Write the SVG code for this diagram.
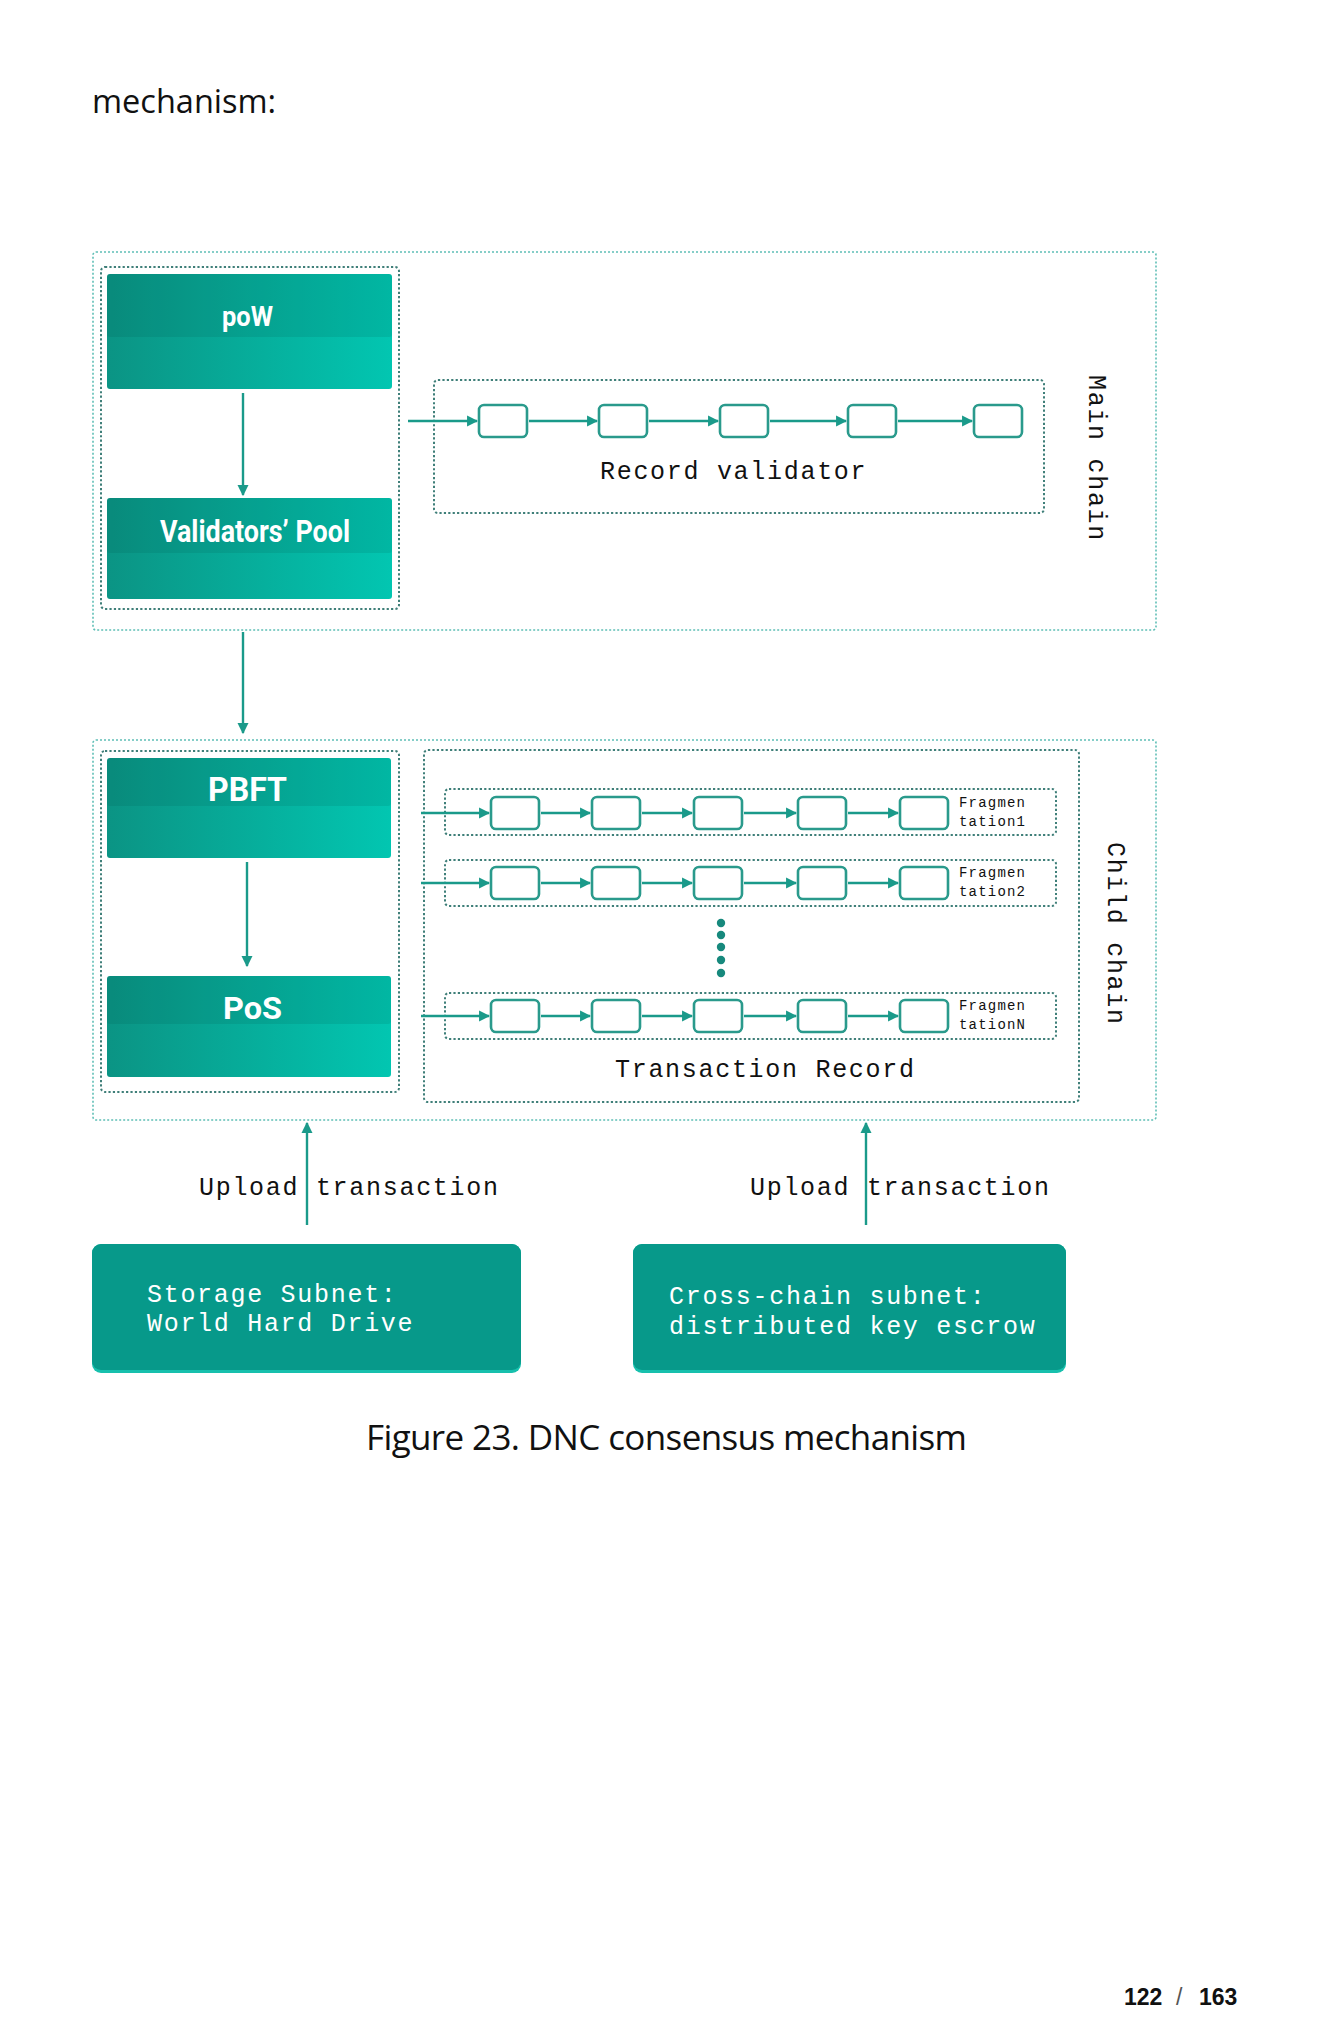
<svg xmlns="http://www.w3.org/2000/svg" width="1332" height="2041" viewBox="0 0 1332 2041">
<defs>
<style>
.outer{fill:none;stroke:#5fbfb6;stroke-width:1.6;stroke-dasharray:2 2}
.inner{fill:none;stroke:#3f7f79;stroke-width:2;stroke-dasharray:2.2 2.2}
.blk{fill:#fff;stroke:#2a9a8c;stroke-width:2.6}
.ln{stroke:#1a9a8a;stroke-width:2.4;fill:none}
.node-t{font-family:Roboto,"Liberation Sans",sans-serif;font-weight:700;fill:#fff}
.mono{font-family:"Liberation Mono","DejaVu Sans Mono",monospace;font-size:25px;letter-spacing:1.7px;fill:#111}
.frag{font-family:"Liberation Mono","DejaVu Sans Mono",monospace;font-size:14px;letter-spacing:1.2px;fill:#111}
.sub{font-family:"Liberation Mono","DejaVu Sans Mono",monospace;font-size:25px;letter-spacing:1.7px;fill:#fff}
.doc{font-family:"Open Sans","Noto Sans",sans-serif;fill:#111}
.pg{font-family:"Liberation Sans",Arial,sans-serif;font-size:23px;font-weight:700;fill:#111}
.pgs{font-family:"Liberation Sans",Arial,sans-serif;font-size:23px;font-weight:400;fill:#555}
</style>
<linearGradient id="g" x1="0" y1="0" x2="1" y2="0">
<stop offset="0" stop-color="#0b9484"/>
<stop offset="1" stop-color="#02c6b1"/>
</linearGradient>
<marker id="ah" viewBox="0 0 10 10" refX="9" refY="5" markerWidth="4.6" markerHeight="4.6" orient="auto" markerUnits="strokeWidth">
<path d="M0,0 L10,5 L0,10 z" fill="#1a9a8a"/>
</marker>
</defs>
<rect width="1332" height="2041" fill="#fff"/>

<text class="doc" x="92" y="113" font-size="32.5">mechanism:</text>

<g id="main-chain">
<rect class="outer" x="93" y="252" width="1063" height="378" rx="3"/>
<text class="mono" transform="translate(1089,375) rotate(90)" letter-spacing="6">Main chain</text>
</g>

<g id="pow-group">
<rect class="inner" x="101" y="267" width="298" height="342" rx="4"/>
</g>

<g id="pow">
<rect x="107" y="274" width="285" height="115" rx="3" fill="url(#g)"/>
<rect x="107" y="274" width="285" height="63" rx="3" fill="#004c42" opacity="0.12"/>
<text class="node-t" x="222" y="326" font-size="28" textLength="51" lengthAdjust="spacingAndGlyphs">poW</text>
</g>

<g id="validators-pool">
<rect x="107" y="498" width="285" height="101" rx="3" fill="url(#g)"/>
<rect x="107" y="498" width="285" height="55" rx="3" fill="#004c42" opacity="0.12"/>
<text class="node-t" x="160" y="542" font-size="32" textLength="190" lengthAdjust="spacingAndGlyphs">Validators’ Pool</text>
</g>

<g id="record-validator">
<rect class="inner" x="434" y="380" width="610" height="133" rx="4"/>
<rect class="blk" x="479" y="405" width="48" height="32" rx="5"/>
<rect class="blk" x="599" y="405" width="48" height="32" rx="5"/>
<rect class="blk" x="720" y="405" width="48" height="32" rx="5"/>
<rect class="blk" x="848" y="405" width="48" height="32" rx="5"/>
<rect class="blk" x="974" y="405" width="48" height="32" rx="5"/>
<text class="mono" x="600" y="479">Record validator</text>
</g>

<g id="child-chain">
<rect class="outer" x="93" y="740" width="1063" height="380" rx="3"/>
<text class="mono" transform="translate(1108,842) rotate(90)" letter-spacing="4.8">Child chain</text>
</g>

<g id="pbft-group">
<rect class="inner" x="101" y="751" width="298" height="341" rx="4"/>
</g>

<g id="pbft">
<rect x="107" y="758" width="284" height="100" rx="3" fill="url(#g)"/>
<rect x="107" y="758" width="284" height="48" rx="3" fill="#004c42" opacity="0.12"/>
<text class="node-t" x="208" y="801" font-size="33" textLength="79" lengthAdjust="spacingAndGlyphs">PBFT</text>
</g>

<g id="pos">
<rect x="107" y="976" width="284" height="101" rx="3" fill="url(#g)"/>
<rect x="107" y="976" width="284" height="48" rx="3" fill="#004c42" opacity="0.12"/>
<text class="node-t" x="223" y="1019" font-size="32" textLength="59" lengthAdjust="spacingAndGlyphs">PoS</text>
</g>

<g id="transaction-record">
<rect class="inner" x="424" y="750" width="655" height="352" rx="4"/>
<text class="mono" x="615" y="1077">Transaction Record</text>
<g fill="#17897d">
<circle cx="721" cy="923" r="4.2"/>
<circle cx="721" cy="935" r="4.2"/>
<circle cx="721" cy="947" r="4.2"/>
<circle cx="721" cy="960" r="4.2"/>
<circle cx="721" cy="973" r="4.2"/>
</g>
</g>

<g id="fragmentation1">
<rect class="inner" x="445" y="789" width="611" height="46" rx="4"/>
<rect class="blk" x="491" y="797" width="48" height="32" rx="5"/>
<rect class="blk" x="592" y="797" width="48" height="32" rx="5"/>
<rect class="blk" x="694" y="797" width="48" height="32" rx="5"/>
<rect class="blk" x="798" y="797" width="48" height="32" rx="5"/>
<rect class="blk" x="900" y="797" width="48" height="32" rx="5"/>
<text class="frag" x="959" y="807">Fragmen</text>
<text class="frag" x="959" y="826">tation1</text>
</g>

<g id="fragmentation2">
<rect class="inner" x="445" y="860" width="611" height="46" rx="4"/>
<rect class="blk" x="491" y="867" width="48" height="32" rx="5"/>
<rect class="blk" x="592" y="867" width="48" height="32" rx="5"/>
<rect class="blk" x="694" y="867" width="48" height="32" rx="5"/>
<rect class="blk" x="798" y="867" width="48" height="32" rx="5"/>
<rect class="blk" x="900" y="867" width="48" height="32" rx="5"/>
<text class="frag" x="959" y="877">Fragmen</text>
<text class="frag" x="959" y="896">tation2</text>
</g>

<g id="fragmentationN">
<rect class="inner" x="445" y="993" width="611" height="46" rx="4"/>
<rect class="blk" x="491" y="1000" width="48" height="32" rx="5"/>
<rect class="blk" x="592" y="1000" width="48" height="32" rx="5"/>
<rect class="blk" x="694" y="1000" width="48" height="32" rx="5"/>
<rect class="blk" x="798" y="1000" width="48" height="32" rx="5"/>
<rect class="blk" x="900" y="1000" width="48" height="32" rx="5"/>
<text class="frag" x="959" y="1010">Fragmen</text>
<text class="frag" x="959" y="1029">tationN</text>
</g>

<g id="storage-subnet">
<rect x="92" y="1244" width="429" height="129" rx="9" fill="#17c0ad"/>
<rect x="92" y="1244" width="429" height="126" rx="9" fill="#07998a"/>
<text class="sub" x="147" y="1302">Storage Subnet:</text>
<text class="sub" x="147" y="1331">World Hard Drive</text>
</g>

<g id="cross-chain-subnet">
<rect x="633" y="1244" width="433" height="129" rx="9" fill="#17c0ad"/>
<rect x="633" y="1244" width="433" height="126" rx="9" fill="#07998a"/>
<text class="sub" x="669" y="1304">Cross-chain subnet:</text>
<text class="sub" x="669" y="1334">distributed key escrow</text>
</g>

<g id="connectors">
<line class="ln" x1="243" y1="393" x2="243" y2="495" marker-end="url(#ah)"/>
<line class="ln" x1="243" y1="632" x2="243" y2="733" marker-end="url(#ah)"/>
<line class="ln" x1="247" y1="862" x2="247" y2="966" marker-end="url(#ah)"/>
<line class="ln" x1="408" y1="421" x2="477" y2="421" marker-end="url(#ah)"/>
<line class="ln" x1="529" y1="421" x2="597" y2="421" marker-end="url(#ah)"/>
<line class="ln" x1="649" y1="421" x2="718" y2="421" marker-end="url(#ah)"/>
<line class="ln" x1="770" y1="421" x2="846" y2="421" marker-end="url(#ah)"/>
<line class="ln" x1="898" y1="421" x2="972" y2="421" marker-end="url(#ah)"/>
<line class="ln" x1="421" y1="813" x2="489" y2="813" marker-end="url(#ah)"/>
<line class="ln" x1="541" y1="813" x2="590" y2="813" marker-end="url(#ah)"/>
<line class="ln" x1="642" y1="813" x2="692" y2="813" marker-end="url(#ah)"/>
<line class="ln" x1="744" y1="813" x2="796" y2="813" marker-end="url(#ah)"/>
<line class="ln" x1="848" y1="813" x2="898" y2="813" marker-end="url(#ah)"/>
<line class="ln" x1="421" y1="883" x2="489" y2="883" marker-end="url(#ah)"/>
<line class="ln" x1="541" y1="883" x2="590" y2="883" marker-end="url(#ah)"/>
<line class="ln" x1="642" y1="883" x2="692" y2="883" marker-end="url(#ah)"/>
<line class="ln" x1="744" y1="883" x2="796" y2="883" marker-end="url(#ah)"/>
<line class="ln" x1="848" y1="883" x2="898" y2="883" marker-end="url(#ah)"/>
<line class="ln" x1="421" y1="1016" x2="489" y2="1016" marker-end="url(#ah)"/>
<line class="ln" x1="541" y1="1016" x2="590" y2="1016" marker-end="url(#ah)"/>
<line class="ln" x1="642" y1="1016" x2="692" y2="1016" marker-end="url(#ah)"/>
<line class="ln" x1="744" y1="1016" x2="796" y2="1016" marker-end="url(#ah)"/>
<line class="ln" x1="848" y1="1016" x2="898" y2="1016" marker-end="url(#ah)"/>
<line class="ln" x1="307" y1="1225" x2="307" y2="1123" stroke-width="2" marker-end="url(#ah)"/>
<line class="ln" x1="866" y1="1225" x2="866" y2="1123" stroke-width="2" marker-end="url(#ah)"/>
<text class="mono" x="199" y="1195">Upload transaction</text>
<text class="mono" x="750" y="1195">Upload transaction</text>
</g>

<text class="doc" x="366" y="1450" font-size="35" textLength="601">Figure 23. DNC consensus mechanism</text>
<text class="pg" x="1124" y="2005">122</text>
<text class="pgs" x="1176" y="2005">/</text>
<text class="pg" x="1199" y="2005">163</text>
</svg>
